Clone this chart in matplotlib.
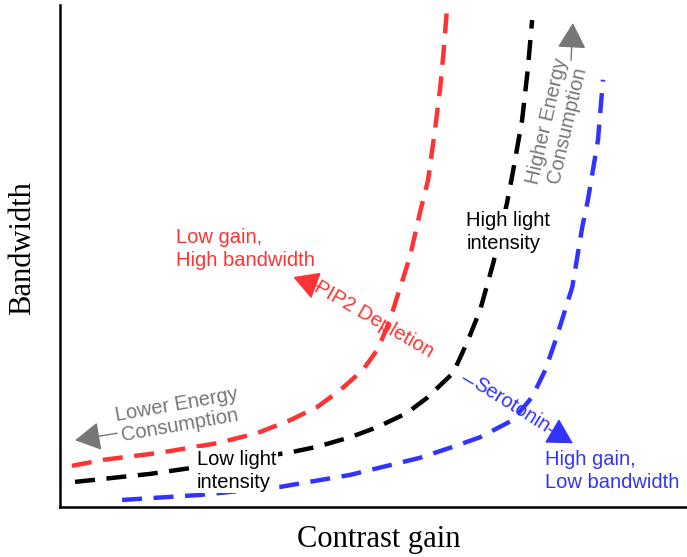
import matplotlib
matplotlib.use("Agg")
import matplotlib.pyplot as plt

# Curve data (arbitrary units 0-100)
red_x = [1.9, 6.9, 15.9, 25.0, 31.4, 36.7, 41.0, 44.7, 48.3, 50.6, 52.0, 53.1, 55.8, 57.4, 58.7, 59.8, 60.6, 61.2, 61.7]
red_y = [8.2, 9.4, 10.8, 12.7, 14.7, 17.3, 19.9, 23.3, 27.3, 31.3, 35.3, 39.2, 49.8, 58.6, 65.1, 75.1, 83.1, 91.0, 99.0]

black_x = [2.4, 14.4, 25.5, 37.2, 41.0, 46.3, 50.6, 55.3, 58.5, 62.7, 64.9, 67.0, 69.1, 71.3, 72.2, 73.7, 74.6, 75.3]
black_y = [5.0, 6.6, 8.6, 11.0, 12.0, 13.9, 15.9, 18.7, 21.7, 26.7, 32.7, 39.2, 48.6, 60.6, 66.5, 77.1, 87.1, 97.0]

blue_x = [9.9, 22.3, 35.1, 46.3, 57.4, 62.7, 67.0, 72.2, 75.3, 77.4, 78.9, 80.2, 81.7, 82.5, 83.3, 84.2, 85.8, 86.6]
blue_y = [1.4, 2.4, 4.0, 6.4, 9.8, 12.0, 13.9, 17.3, 21.9, 27.3, 32.7, 37.8, 43.8, 49.8, 55.8, 61.2, 73.1, 85.1]

RED = "#ff3333"
BLUE = "#3333ff"
GRAY = "#777777"

fig = plt.figure(figsize=(6.87, 5.57), dpi=100)
ax = fig.add_axes([60/687, 50/557, 627/687, 502/557])
ax.set_xlim(0, 100)
ax.set_ylim(0, 100)
for s in ["top", "right"]:
    ax.spines[s].set_visible(False)
for s in ["left", "bottom"]:
    ax.spines[s].set_linewidth(1.8)
ax.set_xticks([])
ax.set_yticks([])

dash = (0, (4.5, 2.6))
ax.plot(red_x, red_y, color=RED, lw=3.2, linestyle=dash, zorder=3)
ax.plot(black_x, black_y, color="black", lw=3.2, linestyle=dash, zorder=3)
ax.plot(blue_x, blue_y, color=BLUE, lw=3.2, linestyle=dash, zorder=3)

sans = "Liberation Sans"
fs = 14.5
ls = 1.25
wbox = dict(facecolor="white", edgecolor="none", pad=1.0)
ax.text(18.5, 55.6, "Low gain,\nHigh bandwidth", color=RED, fontsize=fs, family=sans, va="top", ha="left", linespacing=ls, zorder=4)
ax.text(64.8, 59.0, "High light\nintensity", color="black", fontsize=fs, family=sans, va="top", ha="left", linespacing=ls, zorder=4, bbox=wbox)
ax.text(21.8, 11.4, "Low light\nintensity", color="black", fontsize=fs, family=sans, va="top", ha="left", linespacing=ls, zorder=4, bbox=wbox)
ax.text(77.4, 11.4, "High gain,\nLow bandwidth", color=BLUE, fontsize=fs, family=sans, va="top", ha="left", linespacing=ls, zorder=4)

def arrow(head, tail, color):
    ax.annotate("", xy=head, xytext=tail, zorder=1.5,
                arrowprops=dict(arrowstyle="-|>,head_length=0.8,head_width=0.45",
                                color=color, lw=1, mutation_scale=20, shrinkA=0, shrinkB=0))

arrow((37.2, 45.8), (41.5, 43.8), RED)
ax.text(50.0, 37.3, "PIP2 Depletion", color=RED, fontsize=fs, family=sans, rotation=-30,
        ha="center", va="center", rotation_mode="anchor", zorder=2)

arrow((81.8, 12.7), (64.3, 25.7), BLUE)
ax.text(72.0, 20.2, "Serotonin", color=BLUE, fontsize=fs, family=sans, rotation=-32,
        ha="center", va="center", rotation_mode="anchor", zorder=2,
        bbox=dict(facecolor="white", edgecolor="none", pad=0.5))

arrow((2.4, 13.3), (9.1, 14.7), GRAY)
ax.text(18.8, 18.3, "Lower Energy\nConsumption", color=GRAY, fontsize=fs, family=sans, rotation=10,
        ha="center", va="center", rotation_mode="anchor", linespacing=1.1, zorder=2)

arrow((81.8, 96.4), (81.5, 89.0), GRAY)
ax.text(79.3, 76.5, "Higher Energy\nConsumption", color=GRAY, fontsize=fs, family=sans, rotation=77,
        ha="center", va="center", rotation_mode="anchor", linespacing=1.1, zorder=2)

ax.set_xlabel("Contrast gain", fontsize=22, family="Liberation Serif")
ax.set_ylabel("Bandwidth", fontsize=22, family="Liberation Serif")
ax.xaxis.set_label_coords(0.509, -0.036)
ax.yaxis.set_label_coords(-0.037, 0.516)

fig.savefig("out.png", dpi=100)
